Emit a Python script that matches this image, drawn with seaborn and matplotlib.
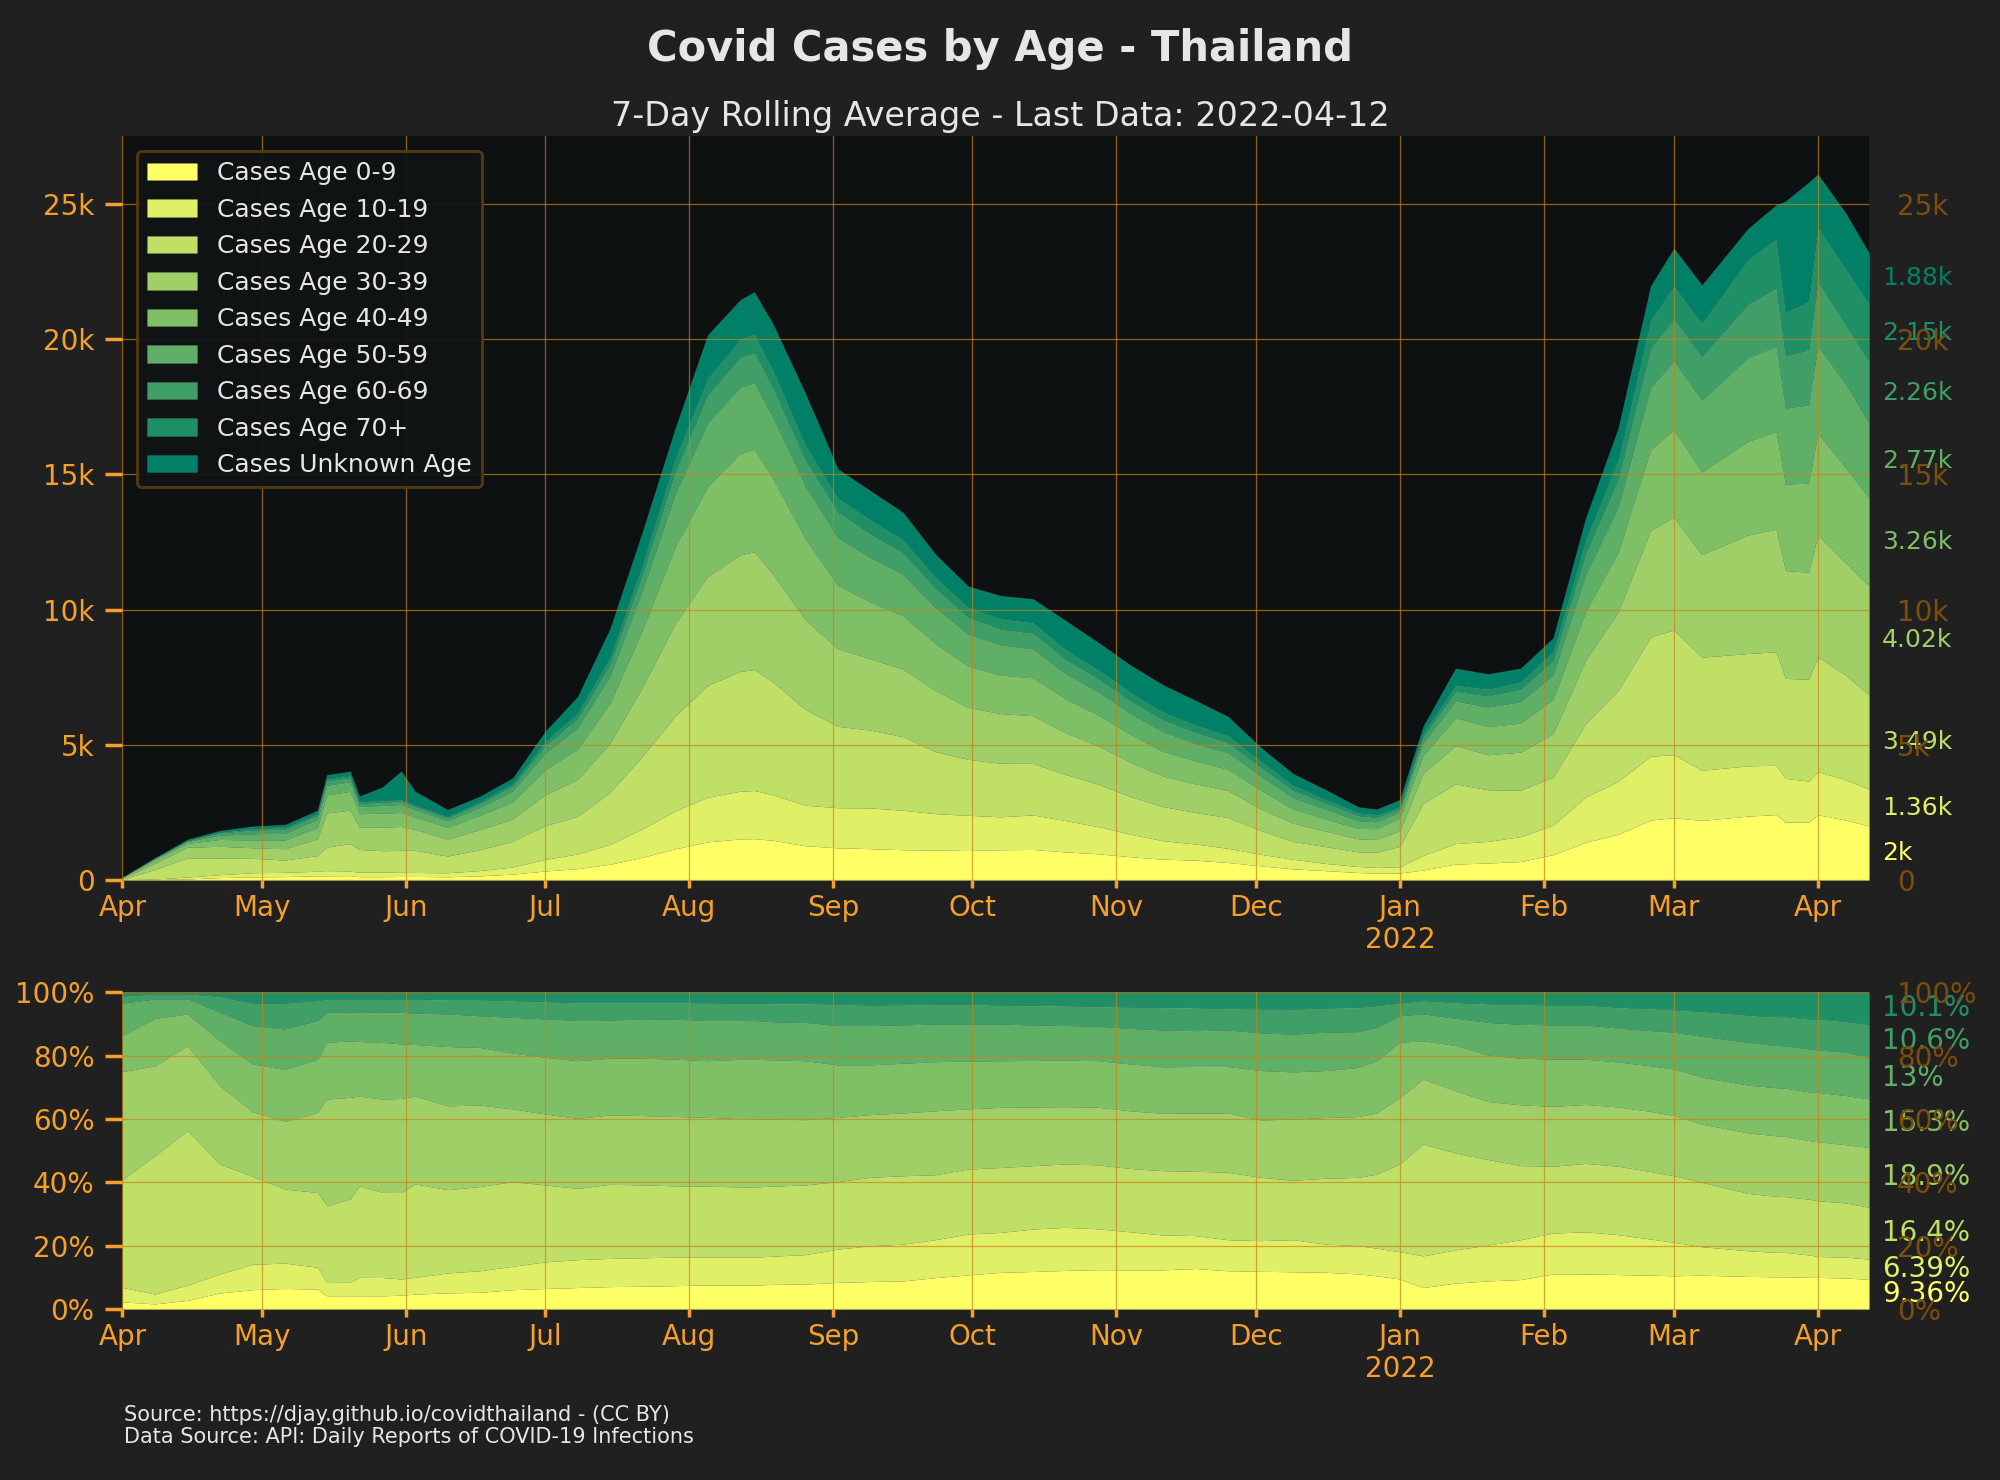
import matplotlib
matplotlib.use("Agg")
import matplotlib.pyplot as plt
import matplotlib.dates as mdates
import matplotlib.transforms as mtransforms
from matplotlib.ticker import FuncFormatter, MultipleLocator
import numpy as np
import pandas as pd
import seaborn as sns


# Data (7-day rolling average, thousands of cases)
START = "2021-04-01"
DAYS = [0, 7, 14, 21, 28, 35, 42, 44, 49, 51, 56, 60, 63, 70, 77, 84, 91, 98, 105, 112,
        119, 126, 133, 136, 140, 147, 154, 161, 168, 175, 182, 189, 196, 203, 210, 217, 224, 231,
        238, 245, 252, 259, 266, 270, 275, 280, 287, 294, 301, 308, 315, 322, 329, 334, 340, 350,
        356, 358, 363, 365, 371, 376]

AGE_0_9 = [0.002, 0.013, 0.04, 0.09, 0.117, 0.127, 0.155, 0.157, 0.163, 0.122, 0.123, 0.131, 0.131,
           0.12, 0.154, 0.218, 0.333, 0.42, 0.586, 0.842, 1.154, 1.41, 1.52, 1.53, 1.47, 1.27, 1.19,
           1.16, 1.12, 1.11, 1.09, 1.12, 1.13, 1.04, 0.97, 0.86, 0.77, 0.735, 0.647, 0.525, 0.413,
           0.347, 0.278, 0.254, 0.258, 0.369, 0.591, 0.629, 0.682, 0.938, 1.396, 1.694, 2.217, 2.306,
           2.204, 2.364, 2.418, 2.142, 2.14, 2.415, 2.215, 2.0]
AGE_10_19 = [0.004, 0.025, 0.07, 0.106, 0.153, 0.156, 0.17, 0.157, 0.163, 0.168, 0.17, 0.152, 0.147,
             0.148, 0.197, 0.264, 0.43, 0.544, 0.735, 1.053, 1.404, 1.652, 1.764, 1.78, 1.682, 1.497,
             1.484, 1.506, 1.462, 1.344, 1.303, 1.218, 1.277, 1.16, 1.005, 0.834, 0.684, 0.597, 0.524,
             0.428, 0.354, 0.266, 0.223, 0.211, 0.234, 0.543, 0.757, 0.799, 0.924, 1.09, 1.673, 1.958,
             2.362, 2.328, 1.854, 1.859, 1.826, 1.617, 1.519, 1.594, 1.492, 1.36]
AGE_20_29 = [0.03, 0.35, 0.71, 0.614, 0.531, 0.456, 0.58, 0.905, 1.02, 0.838, 0.79, 0.814, 0.82,
             0.618, 0.771, 0.953, 1.244, 1.39, 1.933, 2.691, 3.51, 4.139, 4.431, 4.475, 4.177, 3.542,
             3.01, 2.879, 2.722, 2.296, 2.071, 1.982, 1.906, 1.706, 1.574, 1.39, 1.263, 1.165, 1.14,
             0.882, 0.658, 0.622, 0.54, 0.566, 0.753, 1.917, 2.206, 1.909, 1.715, 1.783, 2.717, 3.357,
             4.413, 4.612, 4.182, 4.154, 4.197, 3.696, 3.766, 4.25, 3.865, 3.49]
AGE_30_39 = [0.03, 0.227, 0.39, 0.437, 0.39, 0.415, 0.622, 1.26, 1.24, 0.82, 0.867, 0.885, 0.77,
             0.623, 0.745, 0.821, 1.147, 1.366, 1.809, 2.562, 3.416, 4.028, 4.311, 4.354, 3.988, 3.317,
             2.868, 2.639, 2.495, 2.262, 1.919, 1.837, 1.763, 1.544, 1.418, 1.265, 1.126, 1.056, 1.0,
             0.798, 0.676, 0.574, 0.48, 0.467, 0.571, 1.113, 1.413, 1.294, 1.407, 1.597, 2.34, 2.906,
             3.937, 4.172, 3.79, 4.383, 4.529, 3.99, 3.959, 4.492, 4.158, 4.02]
AGE_40_49 = [0.01, 0.12, 0.145, 0.251, 0.288, 0.32, 0.413, 0.67, 0.69, 0.5, 0.526, 0.513, 0.453,
             0.44, 0.528, 0.628, 0.916, 1.125, 1.479, 2.118, 2.824, 3.322, 3.749, 3.787, 3.534, 2.995,
             2.346, 2.093, 1.978, 1.736, 1.525, 1.421, 1.401, 1.254, 1.145, 1.029, 0.914, 0.844, 0.786,
             0.688, 0.522, 0.443, 0.388, 0.399, 0.473, 0.657, 1.031, 1.039, 1.078, 1.259, 1.799, 2.207,
             2.984, 3.228, 3.049, 3.465, 3.604, 3.192, 3.296, 3.767, 3.503, 3.26]
AGE_50_59 = [0.009, 0.049, 0.07, 0.159, 0.231, 0.25, 0.3, 0.355, 0.35, 0.267, 0.28, 0.298, 0.275,
             0.242, 0.29, 0.403, 0.62, 0.785, 0.991, 1.451, 1.966, 2.357, 2.446, 2.47, 2.268, 1.948,
             1.752, 1.653, 1.525, 1.333, 1.182, 1.122, 1.067, 0.93, 0.849, 0.778, 0.722, 0.649, 0.615,
             0.525, 0.417, 0.362, 0.283, 0.254, 0.228, 0.462, 0.62, 0.728, 0.784, 0.913, 1.359, 1.663,
             2.3, 2.547, 2.657, 3.098, 3.153, 2.814, 2.889, 3.236, 3.096, 2.77]
AGE_60_69 = [0.002, 0.013, 0.023, 0.089, 0.136, 0.16, 0.155, 0.157, 0.163, 0.122, 0.123, 0.125, 0.125,
             0.106, 0.148, 0.189, 0.282, 0.352, 0.463, 0.608, 0.827, 1.039, 1.103, 1.114, 1.096, 0.966,
             0.961, 0.866, 0.806, 0.706, 0.636, 0.58, 0.591, 0.537, 0.491, 0.473, 0.448, 0.419, 0.364,
             0.335, 0.277, 0.23, 0.193, 0.167, 0.109, 0.228, 0.361, 0.417, 0.462, 0.532, 0.793, 1.026,
             1.45, 1.559, 1.627, 1.974, 2.158, 1.932, 2.033, 2.367, 2.192, 2.26]
AGE_70_PLUS = [0.001, 0.004, 0.007, 0.023, 0.065, 0.066, 0.064, 0.079, 0.08, 0.061, 0.062, 0.063, 0.058,
               0.054, 0.067, 0.093, 0.148, 0.198, 0.264, 0.374, 0.499, 0.612, 0.682, 0.689, 0.662,
               0.564, 0.523, 0.533, 0.491, 0.414, 0.374, 0.387, 0.391, 0.358, 0.343, 0.32, 0.292,
               0.276, 0.273, 0.229, 0.186, 0.147, 0.118, 0.102, 0.092, 0.141, 0.231, 0.255, 0.279,
               0.338, 0.503, 0.73, 1.057, 1.208, 1.236, 1.652, 1.826, 1.617, 1.798, 2.029, 2.079, 2.15]
AGE_UNKNOWN = [0.002, 0.02, 0.05, 0.06, 0.08, 0.1, 0.12, 0.15, 0.15, 0.2, 0.5, 1.04, 0.5, 0.25, 0.2,
               0.2, 0.37, 0.6, 1.04, 1.2, 1.1, 1.6, 1.45, 1.55, 1.7, 1.9, 1.07, 1.07, 1.0, 0.85, 0.77,
               0.85, 0.87, 1.07, 1.0, 1.0, 1.0, 0.9, 0.7, 0.5, 0.43, 0.35, 0.2, 0.2, 0.25, 0.25, 0.62,
               0.55, 0.5, 0.5, 0.8, 1.16, 1.25, 1.4, 1.4, 1.15, 1.25, 4.1, 4.4, 1.95, 2.05, 1.88]

SERIES_LABELS = ["Cases Age 0-9", "Cases Age 10-19", "Cases Age 20-29", "Cases Age 30-39",
                 "Cases Age 40-49", "Cases Age 50-59", "Cases Age 60-69", "Cases Age 70+",
                 "Cases Unknown Age"]
# shares of known-age cases on the last day, as printed on the right of the lower panel
LAST_SHARE_PCT = [9.36, 6.39, 16.4, 18.9, 15.3, 13.0, 10.6, 10.1]

TITLE = "Covid Cases by Age - Thailand"
SUBTITLE = "7-Day Rolling Average - Last Data: 2022-04-12"
FOOTER = ("Source: https://djay.github.io/covidthailand - (CC BY)\n"
          "Data Source: API: Daily Reports of COVID-19 Infections")

# Style
BG = "#202020"
AX_BG = "#0d1111"
ORANGE = "#f5a02a"
BROWN = "#7a4e0c"
GRID = "#c98318"
TEXT = "#e6e6e6"

sns.set_theme(style="dark", rc={
    "figure.facecolor": BG,
    "axes.facecolor": AX_BG,
    "axes.edgecolor": AX_BG,
    "text.color": TEXT,
    "xtick.color": ORANGE,
    "ytick.color": ORANGE,
    "grid.color": GRID,
})
plt.rcParams["font.family"] = ["DejaVu Sans"]

dates = pd.Timestamp(START) + pd.to_timedelta(DAYS, unit="D")
cases = pd.DataFrame(
    dict(zip(SERIES_LABELS, [AGE_0_9, AGE_10_19, AGE_20_29, AGE_30_39, AGE_40_49,
                             AGE_50_59, AGE_60_69, AGE_70_PLUS, AGE_UNKNOWN])),
    index=dates,
)
known = cases[SERIES_LABELS[:-1]]
share = known.div(known.sum(axis=1), axis=0) * 100

cmap = sns.color_palette("summer_r", as_cmap=True)
colors = [cmap(v) for v in np.linspace(0, 1, len(SERIES_LABELS))]

fig = plt.figure(figsize=(10, 7.4), dpi=200, facecolor=BG)
ax_top = fig.add_axes([0.0612, 0.4054, 0.8733, 0.5024])
ax_bot = fig.add_axes([0.0612, 0.1155, 0.8733, 0.214])


def month_fmt(x, pos=None):
    d = mdates.num2date(x)
    return d.strftime("%b\n%Y") if d.month == 1 else d.strftime("%b")


def style_axis(ax, ymax, step, fmt):
    ax.set_xlim(dates[0], dates[-1])
    ax.set_ylim(0, ymax)
    ax.yaxis.set_major_locator(MultipleLocator(step))
    ax.yaxis.set_major_formatter(FuncFormatter(fmt))
    ax.xaxis.set_major_locator(mdates.MonthLocator())
    ax.xaxis.set_major_formatter(FuncFormatter(month_fmt))
    ax.set_axisbelow(False)
    ax.grid(True, color=GRID, linewidth=0.45, alpha=0.7)
    ax.tick_params(axis="x", bottom=True, length=3, color=ORANGE, labelsize=10, labelcolor=ORANGE, pad=2)
    ax.tick_params(axis="y", left=False, labelsize=10, labelcolor=ORANGE, pad=4)
    for s in ax.spines.values():
        s.set_visible(False)
    twin = ax.twinx()
    twin.set_ylim(ax.get_ylim())
    twin.yaxis.set_major_locator(MultipleLocator(step))
    twin.yaxis.set_major_formatter(FuncFormatter(fmt))
    twin.tick_params(axis="y", right=False, labelsize=10, labelcolor=BROWN, pad=4)
    twin.grid(False)
    for s in twin.spines.values():
        s.set_visible(False)
    return twin


# Top panel: stacked cases
ax_top.stackplot(cases.index, cases.T.values, colors=colors, labels=SERIES_LABELS,
                 linewidth=0.4, edgecolor=(1, 1, 1, 0.08))
style_axis(ax_top, 27.5, 5, lambda v, p: "0" if v == 0 else f"{v:.0f}k")
leg = ax_top.legend(loc="upper left", fontsize=9, facecolor="#111414", edgecolor="#5a3c10",
                    labelcolor=TEXT, framealpha=0.95, borderaxespad=0.6)

last = cases.iloc[-1]
mids = last.cumsum() - last / 2
trans = mtransforms.blended_transform_factory(ax_top.transAxes, ax_top.transData)
for i, name in enumerate(SERIES_LABELS):
    ax_top.text(1.0075, mids[name], f"{last[name]:.3g}k", transform=trans, ha="left",
                va="center", fontsize=9, color=colors[i], clip_on=False)

# Bottom panel: share of known ages
ax_bot.stackplot(share.index, share.T.values, colors=colors[:-1],
                 linewidth=0.4, edgecolor=(1, 1, 1, 0.08))
style_axis(ax_bot, 100, 20, lambda v, p: f"{v:.0f}%")

pct = np.array(LAST_SHARE_PCT)
pct_mids = np.cumsum(pct) - pct / 2
trans_b = mtransforms.blended_transform_factory(ax_bot.transAxes, ax_bot.transData)
for i, (p, y) in enumerate(zip(pct, pct_mids)):
    ax_bot.text(1.0075, y, f"{p:.3g}%", transform=trans_b, ha="left", va="center",
                fontsize=10, color=colors[i], clip_on=False)

fig.text(0.5, 0.967, TITLE, ha="center", va="center", fontsize=15, weight="bold", color=TEXT)
fig.text(0.5, 0.921, SUBTITLE, ha="center", va="center", fontsize=12, color=TEXT)
fig.text(0.062, 0.0365, FOOTER, ha="left", va="center", fontsize=7.5, color=TEXT, linespacing=1.15)

fig.savefig("out.png", dpi=200, facecolor=BG)
